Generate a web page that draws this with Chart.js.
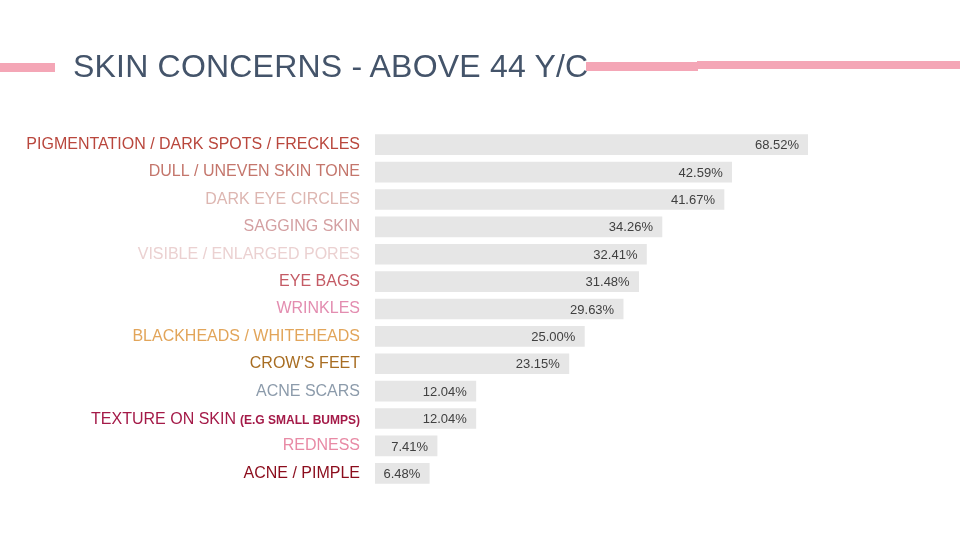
<!DOCTYPE html>
<html>
<head>
<meta charset="utf-8">
<script src="https://cdn.jsdelivr.net/npm/chart.js@4.4.1/dist/chart.umd.min.js"></script>
<style>
    body { margin: 0; background: #fff; }
    #wrap { position: relative; width: 960px; height: 540px; overflow: hidden; }
    #title {
        position: absolute; left: 73px; top: 50px; margin: 0; font-weight: normal;
        font: 32px/32px "Liberation Sans", Arial, sans-serif; letter-spacing: 0.2px;
        color: #44546a; white-space: nowrap;
    }
    .rule { position: absolute; background: #f4a6b6; }
    canvas { position: absolute; left: 0; top: 0; }
</style>
</head>
<body>
<div id="wrap">
    <canvas id="c" width="960" height="540"></canvas>
    <h1 id="title">SKIN CONCERNS - ABOVE 44 Y/C</h1>
    <div class="rule" style="left:0;top:63px;width:55px;height:9px"></div>
    <div class="rule" style="left:586px;top:62px;width:112px;height:9px"></div>
    <div class="rule" style="left:697px;top:61px;width:263px;height:8px"></div>
</div>
<script>
const concerns = [
    'PIGMENTATION / DARK SPOTS / FRECKLES',
    'DULL / UNEVEN SKIN TONE',
    'DARK EYE CIRCLES',
    'SAGGING SKIN',
    'VISIBLE / ENLARGED PORES',
    'EYE BAGS',
    'WRINKLES',
    'BLACKHEADS / WHITEHEADS',
    'CROW\u2019S FEET',
    'ACNE SCARS',
    'TEXTURE ON SKIN',
    'REDNESS',
    'ACNE / PIMPLE'
];
const shares = [68.52, 42.59, 41.67, 34.26, 32.41, 31.48, 29.63, 25.00, 23.15, 12.04, 12.04, 7.41, 6.48];
const labelColors = [
    '#b9473d', '#c4766c', '#ddb6b1', '#d4a0a2', '#ebd1d1', '#c45b65', '#e38db0',
    '#e2a55a', '#a86d22', '#8c9bab', '#a41a48', '#e88aa5', '#8b0c1c'
];
// small bold suffix shown after one label
const labelNotes = { 10: '(E.G SMALL BUMPS)' };

const FONT = '"Liberation Sans", Arial, sans-serif';

const valueLabels = {
    id: 'valueLabels',
    afterDatasetsDraw(chart) {
        const ctx = chart.ctx;
        const area = chart.chartArea;
        ctx.save();
        ctx.font = '13px ' + FONT;
        ctx.fillStyle = '#404040';
        ctx.textAlign = 'right';
        ctx.textBaseline = 'middle';
        chart.getDatasetMeta(0).data.forEach((bar, i) => {
            const end = Math.min(bar.x, area.right);
            ctx.fillText(shares[i].toFixed(2) + '%', end - 9, bar.y + 1);
        });
        ctx.restore();
    }
};

const notedLabels = {
    id: 'notedLabels',
    afterDraw(chart) {
        const ctx = chart.ctx;
        const y = chart.scales.y;
        const right = y.right - 15;
        ctx.save();
        ctx.textAlign = 'right';
        ctx.textBaseline = 'alphabetic';
        Object.keys(labelNotes).forEach(k => {
            const i = parseInt(k);
            const base = y.getPixelForTick(i) + 5;
            ctx.fillStyle = labelColors[i];
            ctx.font = 'bold 12px ' + FONT;
            ctx.fillText(labelNotes[k], right, base);
            const w = ctx.measureText(labelNotes[k]).width;
            ctx.font = '16px ' + FONT;
            ctx.fillText(concerns[i], right - w - 4, base);
        });
        ctx.restore();
    }
};

new Chart(document.getElementById('c'), {
    type: 'bar',
    data: {
        labels: concerns,
        datasets: [{ data: shares, backgroundColor: '#e6e6e6', barThickness: 20 }]
    },
    options: {
        indexAxis: 'y',
        responsive: false,
        animation: false,
        layout: { padding: { top: 131, bottom: 53, right: 152, left: 0 } },
        plugins: { legend: { display: false }, tooltip: { enabled: false } },
        scales: {
            x: { display: false, min: 0, max: 51.7 },
            y: {
                grid: { display: false, drawTicks: false },
                border: { display: false },
                afterFit: (scale) => { scale.width = 375; },
                ticks: {
                    padding: 15,
                    font: { size: 16, family: FONT },
                    color: (c) => labelColors[c.index],
                    callback: (v, i) => labelNotes[i] ? '' : concerns[i]
                }
            }
        }
    },
    plugins: [valueLabels, notedLabels]
});
</script>
</body>
</html>
